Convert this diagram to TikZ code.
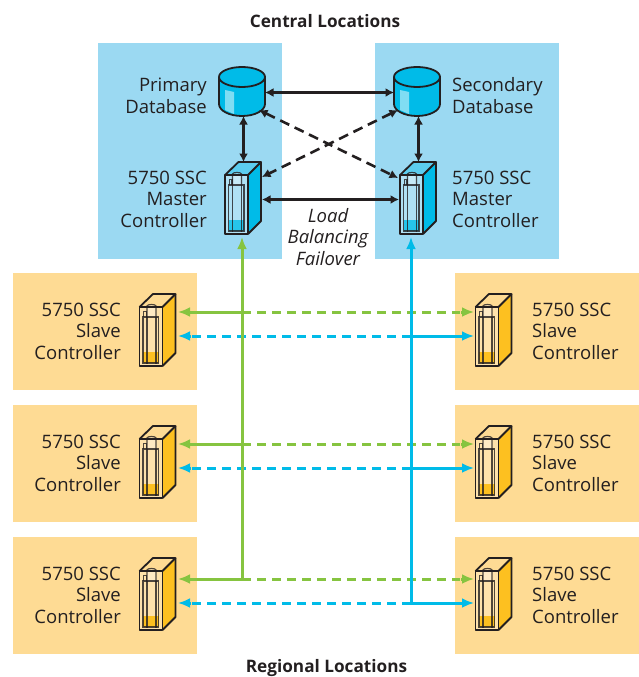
\documentclass[tikz,border=0pt]{standalone}
\usepackage{fontspec}
\setmainfont{Open Sans}
\usetikzlibrary{arrows.meta,calc}
\definecolor{ink}{HTML}{231F20}
\definecolor{panelblue}{HTML}{9BD9F2}
\definecolor{panelorange}{HTML}{FEDB94}
\definecolor{cyanline}{HTML}{00BBE8}
\definecolor{greenline}{HTML}{86C440}
\definecolor{yellowfill}{HTML}{FDC020}
\definecolor{lightcyan}{HTML}{5CCDEF}
\tikzset{
  x=1pt,y=-1pt,
  panelbox/.style={fill=#1,draw=none,minimum width=184pt,inner sep=0pt,outer sep=0pt},
  lab/.style={text=ink,font=\fontsize{18.5}{21.5}\selectfont,inner sep=0pt},
  title/.style={text=ink,font=\bfseries\fontsize{17.2}{20}\selectfont,inner sep=0pt},
  hitbox/.style={minimum width=#1,inner sep=0pt,outer sep=0pt},
  blk/.style={draw=ink,line width=2.6pt,{Latex[length=8.5pt,width=9pt]}-{Latex[length=8.5pt,width=9pt]}},
  blkd/.style={blk,dash pattern=on 10pt off 6pt},
  grn/.style={draw=greenline,line width=3pt},
  cyn/.style={draw=cyanline,line width=3pt},
  dsh/.style={dash pattern=on 9pt off 6pt},
  tipL/.style={-{Latex[length=12pt,width=10pt]}},
  thinpart/.style={draw=ink,line width=1.2pt,opacity=.8},
}
\newcommand{\ctrlunit}[6]{%
  \begin{scope}[shift={(#1,#2)}]
    \fill[#5] (0,0) -- (13.5,-13) -- (36,-13) -- (23,0) -- cycle;
    \fill[#4] (23,0) -- (36,-13) -- (36,46) -- (23,59) -- cycle;
    \fill[white,opacity=.22] (0,0) rectangle (23,59);
    \fill[white,opacity=.3] (7.5,-2) rectangle (16.5,10);
    \fill[#6] (3.5,44.5) rectangle (19,56);
    \draw[ink,line width=1.8pt,line join=round] (0,0) rectangle (23,59);
    \draw[ink,line width=1.8pt,line join=round] (0,0) -- (13.5,-13) -- (36,-13) -- (23,0);
    \draw[ink,line width=1.8pt,line join=round] (36,-13) -- (36,46) -- (23,59);
    \draw[thinpart] (3.5,10) rectangle (19,56);
    \draw[thinpart] (7.5,10) -- (7.5,-1) .. controls (7.5,-3) and (16.5,-3) .. (16.5,-1) -- (16.5,10);
    \draw[thinpart] (7.5,10) -- (7.5,57) (16.5,10) -- (16.5,57);
    \draw[thinpart] (4.2,10) -- (4.2,4.7) -- (6.9,4.7) -- (6.9,10);
    \node[hitbox=36pt,minimum height=72pt] (#3) at (18,23) {};
  \end{scope}}
\newcommand{\dbunit}[3]{%
  \begin{scope}[shift={(#1,#2)}]
    \fill[cyanline] (-23,0) -- (-23,27) arc[start angle=180,end angle=0,x radius=23,y radius=12] -- (23,0) -- cycle;
    \fill[white,opacity=.5] (-17,13) -- (-8,15) -- (-8,37) -- (-17,33) -- cycle;
    \draw[ink,line width=1.8pt,fill=cyanline] (0,0) ellipse[x radius=23,y radius=10];
    \draw[ink,line width=1.8pt] (-23,0) -- (-23,27) arc[start angle=180,end angle=0,x radius=23,y radius=12] -- (23,0);
    \node[hitbox=46pt,minimum height=50pt] (#3) at (0,15) {};
  \end{scope}}
\begin{document}
\begin{tikzpicture}
\useasboundingbox (0,0) rectangle (638,677);
% panels
\node[panelbox=panelblue,minimum height=216pt] (pL) at (190,151) {};
\node[panelbox=panelblue,minimum height=216pt] (pR) at (467,151) {};
\foreach \n/\y in {a/331.5,b/463.5,c/595.5}{
  \node[panelbox=panelorange,minimum height=117pt] (o\n L) at (105,\y) {};
  \node[panelbox=panelorange,minimum height=117pt] (o\n R) at (547,\y) {};
}
% titles
\node[title] (t1) at (325,21.5) {Central Locations};
\node[title] (t2) at (326.5,668) {Regional Locations};
% labels
\node[lab,anchor=east] (l1) at (207,98) {\begin{tabular}{@{}r@{}}Primary\\Database\end{tabular}};
\node[lab,anchor=west] (l2) at (452,98) {\begin{tabular}{@{}l@{}}Secondary\\Database\end{tabular}};
\node[lab,anchor=east] (l3) at (207,201.5) {\begin{tabular}{@{}r@{}}5750 SSC\\Master\\Controller\end{tabular}};
\node[lab,anchor=west] (l4) at (452,201.5) {\begin{tabular}{@{}l@{}}5750 SSC\\Master\\Controller\end{tabular}};
\node[lab,font=\itshape\fontsize{18.5}{21.5}\selectfont] (l5) at (328,239.5) {\begin{tabular}{@{}c@{}}Load\\Balancing\\Failover\end{tabular}};
\foreach \n/\y in {a/333.5,b/465.5,c/597.5}{
  \node[lab,anchor=east] (s\n L) at (121,\y) {\begin{tabular}{@{}r@{}}5750 SSC\\Slave\\Controller\end{tabular}};
  \node[lab,anchor=west] (s\n R) at (532,\y) {\begin{tabular}{@{}l@{}}5750 SSC\\Slave\\Controller\end{tabular}};
}
% devices
\dbunit{242}{77}{dbL}
\dbunit{417}{77}{dbR}
\ctrlunit{225}{175}{mL}{cyanline}{lightcyan}{cyanline!85!white}
\ctrlunit{400}{175}{mR}{cyanline}{lightcyan}{cyanline!85!white}
\foreach \n/\y in {a/307,b/439,c/571}{
  \ctrlunit{139.5}{\y}{c\n L}{yellowfill}{panelorange}{yellowfill}
  \ctrlunit{475.5}{\y}{c\n R}{yellowfill}{panelorange}{yellowfill}
}
% black connectors
\coordinate (dbLe) at (265,92.5); \coordinate (dbRw) at (394,92.5);
\draw[blk] (dbLe) -- (dbRw);
\coordinate (mLe) at (262,199.5); \coordinate (mRw) at (399,199.5);
\draw[blk] (mLe) -- (mRw);
\coordinate (dbLs) at (243.5,116); \coordinate (mLn) at (243.5,162);
\draw[blk] (dbLs) -- (mLn);
\coordinate (dbRs) at (418.5,116); \coordinate (mRn) at (418.5,162);
\draw[blk] (dbRs) -- (mRn);
\coordinate (x1a) at (259,110); \coordinate (x1b) at (398,178);
\draw[blkd] (x1a) -- (x1b);
\coordinate (x2a) at (398,110); \coordinate (x2b) at (262,177);
\draw[blkd] (x2a) -- (x2b);
% row connectors
\foreach \n/\g/\b in {a/312/336,b/444/468,c/579/603}{
  \coordinate (g\n L) at (178,\g); \coordinate (g\n M) at (242,\g); \coordinate (g\n R) at (474,\g);
  \coordinate (b\n L) at (178,\b); \coordinate (b\n M) at (411,\b); \coordinate (b\n R) at (474,\b);
  \draw[grn,dsh] (g\n M) -- ($(g\n R)+(-14,0)$);
  \draw[cyn,dsh] ($(b\n L)+(14,0)$) -- (b\n M);
  \draw[grn,tipL] (g\n M) -- (g\n L);
  \draw[cyn,tipL] (b\n M) -- (b\n R);
  \draw[grn,tipL] ($(g\n R)+(-13,0)$) -- (g\n R);
  \draw[cyn,tipL] ($(b\n L)+(13,0)$) -- (b\n L);
}
% trunks
\coordinate (gTop) at (242,237); \coordinate (bTop) at (411,237);
\draw[grn,tipL] (gcM) -- (gTop);
\draw[cyn,tipL] (bcM) -- (bTop);
\end{tikzpicture}
\end{document}
